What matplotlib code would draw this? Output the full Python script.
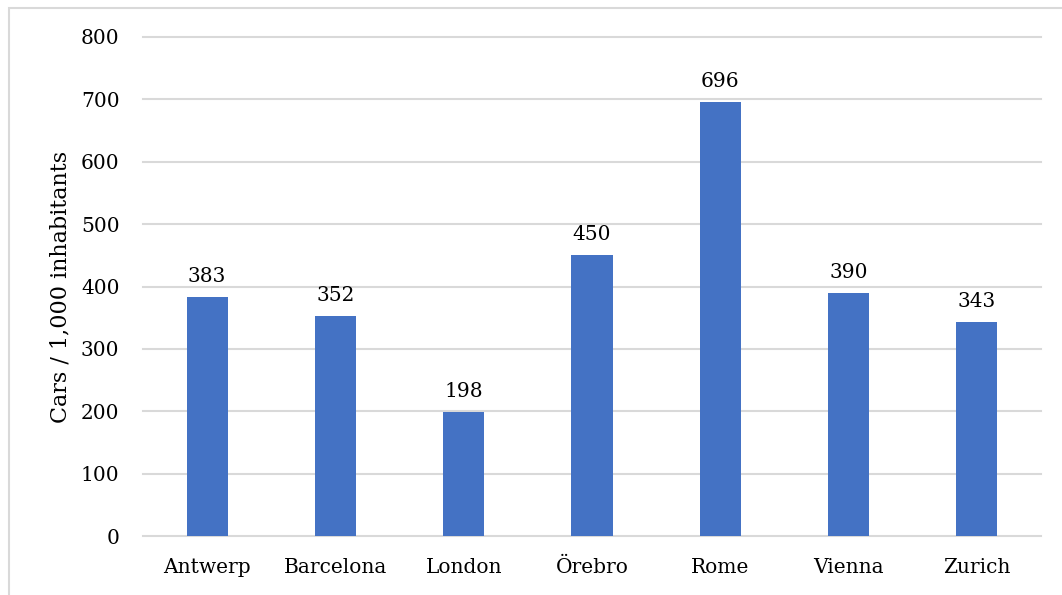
import matplotlib.pyplot as plt
from matplotlib.patches import Rectangle

cities = ["Antwerp", "Barcelona", "London", "Örebro", "Rome", "Vienna", "Zurich"]
cars_per_1000 = [383, 352, 198, 450, 696, 390, 343]
y_ticks = [0, 100, 200, 300, 400, 500, 600, 700, 800]

plt.rcParams["font.family"] = ["DejaVu Serif"]

W, H = 1062, 595
fig = plt.figure(figsize=(W / 100, H / 100), dpi=100)
ax = fig.add_axes([143 / W, 1 - 536 / H, (1041 - 143) / W, (536 - 37) / H])

x = range(len(cities))
bars = ax.bar(x, cars_per_1000, width=0.32, color="#4472C4", zorder=3)
for b, v in zip(bars, cars_per_1000):
    ax.annotate(f"{v}", (b.get_x() + b.get_width() / 2, v),
                xytext=(0, 8), textcoords="offset points",
                ha="center", va="bottom", fontsize=14.5)

ax.set_xlim(-0.5, len(cities) - 0.5)
ax.set_ylim(0, 800)
ax.set_yticks(y_ticks)
ax.set_xticks(list(x))
ax.set_xticklabels(cities)
ax.tick_params(axis="both", length=0, labelsize=14.5)
ax.tick_params(axis="y", pad=17)
ax.tick_params(axis="x", pad=16)
ax.grid(axis="y", color="#D9D9D9", linewidth=1.5, zorder=0)
for gl in ax.get_ygridlines():
    gl.set_clip_on(False)
for s in ax.spines.values():
    s.set_visible(False)
ax.set_ylabel("Cars / 1,000 inhabitants", fontsize=16, labelpad=7)

# outer chart-area frame
fig.patches.append(Rectangle((9 / W, -0.1), 1.2, 1 - 8 / H + 0.1,
                             transform=fig.transFigure, fill=False,
                             edgecolor="#D9D9D9", linewidth=1.5))

fig.savefig("out.png", dpi=100)
